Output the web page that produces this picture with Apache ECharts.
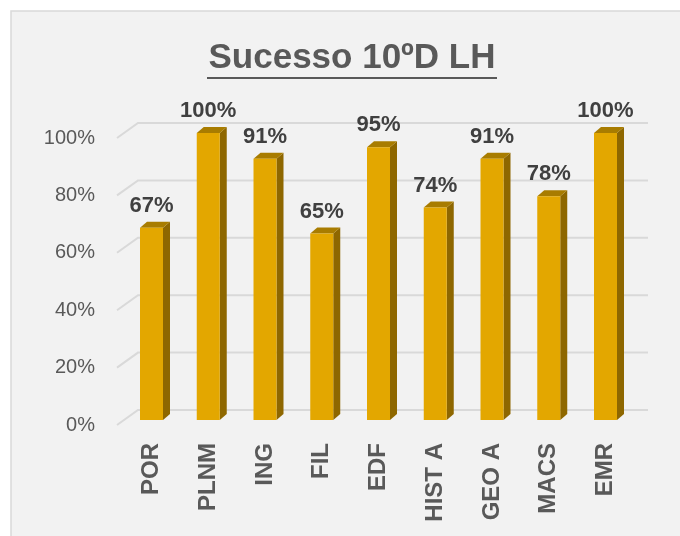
<!DOCTYPE html>
<html>
<head>
<meta charset="utf-8">
<script src="https://cdn.jsdelivr.net/npm/echarts@6/dist/echarts.min.js"></script>
<style>
  body { margin: 0; background: #ffffff; }
  #chartBox { width: 680px; height: 536px; }
</style>
</head>
<body>
<div id="chartBox"></div>
<script>
const categories = ["POR", "PLNM", "ING", "FIL", "EDF", "HIST A", "GEO A", "MACS", "EMR"];
const sucesso = [0.67, 1.0, 0.91, 0.65, 0.95, 0.74, 0.91, 0.78, 1.0];
const yTicks = [0, 0.2, 0.4, 0.6, 0.8, 1.0];

const pct = (v) => Math.round(v * 100) + "%";

// 3D look: depth offset of the bar and of the walls
const barDx = 7, barDy = -6, barW = 23;
const wallDx = 21, wallDy = -15;

const chartFun = () => {
  const myChart = echarts.init(document.getElementById("chartBox"));
  const option = {
    backgroundColor: "#ffffff",
    animation: false,
    graphic: [
      {
        type: "rect",
        z: -10,
        silent: true,
        shape: { x: 11, y: 11, width: 690, height: 540 },
        style: { fill: "#f2f2f2", stroke: "#d9d9d9", lineWidth: 1.5 },
      },
      {
        type: "text",
        z: 10,
        style: {
          text: "Sucesso 10ºD LH",
          x: 352,
          y: 58,
          align: "center",
          verticalAlign: "middle",
          fill: "#595959",
          font: "bold 35px 'Liberation Sans', Arial, sans-serif",
        },
      },
      {
        type: "line",
        z: 10,
        shape: { x1: 207, y1: 78, x2: 497, y2: 78 },
        style: { stroke: "#595959", lineWidth: 2 },
      },
    ],
    grid: [
      { left: 123.125, right: 46.125, top: 133, bottom: 116 },
      { left: 117, right: 32, top: 138, bottom: 111 },
    ],
    xAxis: [
      {
        type: "category",
        gridIndex: 0,
        data: categories,
        axisLine: { show: false },
        axisTick: { show: false },
        axisLabel: {
          rotate: 90,
          margin: 23,
          color: "#595959",
          fontWeight: "bold",
          fontSize: 24,
          fontFamily: "Liberation Sans, Arial, sans-serif",
        },
      },
      {
        type: "value",
        gridIndex: 1,
        min: 0,
        max: 1,
        show: false,
      },
    ],
    yAxis: [
      {
        type: "value",
        gridIndex: 0,
        min: 0,
        max: 1,
        show: false,
      },
      {
        type: "value",
        gridIndex: 1,
        min: 0,
        max: 1,
        interval: 0.2,
        axisLine: { show: false },
        axisTick: { show: false },
        splitLine: { show: false },
        axisLabel: {
          margin: 22,
          color: "#595959",
          fontSize: 20,
          fontFamily: "Liberation Sans, Arial, sans-serif",
          formatter: (v) => pct(v),
        },
      },
    ],
    series: [
      {
        name: "walls",
        type: "custom",
        xAxisIndex: 1,
        yAxisIndex: 1,
        z: 1,
        silent: true,
        data: yTicks.map((v) => [0, v]),
        renderItem: function (params, api) {
          const p = api.coord([0, api.value(1)]);
          const right = api.coord([1, api.value(1)])[0];
          return {
            type: "polyline",
            shape: {
              points: [
                [p[0], p[1]],
                [p[0] + wallDx, p[1] + wallDy],
                [right, p[1] + wallDy],
              ],
            },
            style: { stroke: "#d9d9d9", lineWidth: 2, fill: null },
          };
        },
      },
      {
        name: "Sucesso",
        type: "custom",
        xAxisIndex: 0,
        yAxisIndex: 0,
        z: 5,
        data: sucesso.map((v, i) => [i, v]),
        renderItem: function (params, api) {
          const top = api.coord([api.value(0), api.value(1)]);
          const base = api.coord([api.value(0), 0]);
          const x0 = top[0] - barW / 2;
          const x1 = top[0] + barW / 2;
          const yt = top[1];
          const yb = base[1];
          return {
            type: "group",
            children: [
              {
                type: "polygon",
                shape: { points: [[x1, yt], [x1 + barDx, yt + barDy], [x1 + barDx, yb + barDy], [x1, yb]] },
                style: { fill: "#8e6700" },
              },
              {
                type: "polygon",
                shape: { points: [[x0, yt], [x1, yt], [x1 + barDx, yt + barDy], [x0 + barDx, yt + barDy]] },
                style: { fill: "#a87c00" },
              },
              {
                type: "rect",
                shape: { x: x0, y: yt, width: barW, height: yb - yt },
                style: { fill: "#e3a700" },
              },
              {
                type: "text",
                style: {
                  text: pct(api.value(1)),
                  x: top[0],
                  y: yt - 11,
                  align: "center",
                  verticalAlign: "bottom",
                  fill: "#404040",
                  font: "bold 22px 'Liberation Sans', Arial, sans-serif",
                },
              },
            ],
          };
        },
      },
    ],
  };
  myChart.setOption(option);
};

chartFun();
</script>
</body>
</html>
